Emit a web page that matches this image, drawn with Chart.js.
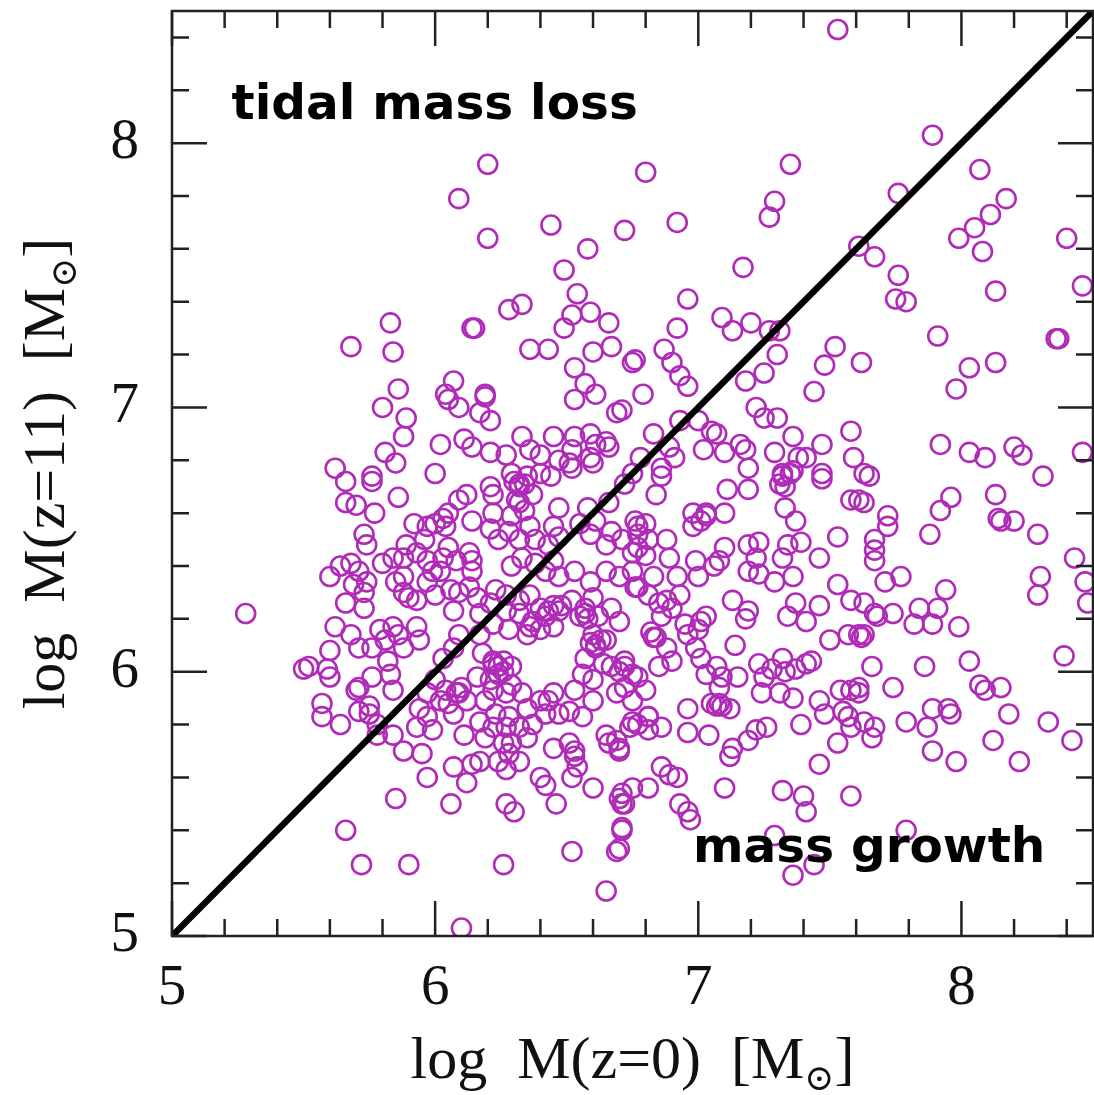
<!DOCTYPE html>
<html>
<head>
<meta charset="utf-8">
<script src="https://cdn.jsdelivr.net/npm/chart.js@4/dist/chart.umd.min.js"></script>
<style>
  html, body { margin: 0; padding: 0; background: #fff; }
  #massChart { display: block; }
</style>
</head>
<body>
<canvas id="massChart" width="1094" height="1095"></canvas>
<script>
// log M(z=0), log M(z=11) pairs, grouped by region
const upperLeftPts = [
  [6.20,7.92],[6.09,7.79],[6.20,7.64],[6.44,7.69],[6.72,7.67],[6.80,7.89],[6.58,7.60],[6.49,7.52],[6.54,7.43],[6.33,7.39],
  [6.28,7.37],[6.52,7.35],[6.59,7.36],[6.66,7.32],[6.49,7.30],[6.14,7.30],[6.15,7.30],[5.83,7.32],[5.68,7.23],[5.84,7.21],
  [6.36,7.22],[6.43,7.22],[6.60,7.21],[6.67,7.23],[6.75,7.17],[6.53,7.15],[6.57,7.09],[6.61,7.05],[6.53,7.03],[6.69,6.98],
  [6.79,7.05],[5.86,7.07],[5.80,7.00],[5.89,6.96],[5.88,6.89],[6.07,7.10],[6.04,7.05],[6.05,7.03],[6.09,7.00],[6.19,7.05],
  [6.19,7.04],[6.17,6.98],[6.21,6.95],[6.02,6.86],[6.11,6.88],[6.14,6.85],[6.21,6.83],[6.27,6.82],[6.33,6.89],[6.36,6.84],
  [6.40,6.82],[6.45,6.89],[6.53,6.89],[6.59,6.90],[6.61,6.86],[6.65,6.87],[6.47,6.80],[6.51,6.79],[6.59,6.81],[5.81,6.83],
  [5.85,6.79],[5.62,6.77],[6.00,6.75],[5.76,6.74],[6.29,6.75],[6.35,6.74]
];

const upperRightPts = [
  [7.53,8.43],[7.89,8.03],[7.35,7.92],[8.07,7.90],[7.76,7.81],[8.17,7.79],[7.29,7.78],[7.27,7.72],[8.11,7.73],[8.05,7.68],
  [7.99,7.64],[8.08,7.59],[6.92,7.70],[8.40,7.64],[7.61,7.61],[7.67,7.57],[7.76,7.50],[7.75,7.41],[7.79,7.40],[8.13,7.44],
  [8.46,7.46],[7.17,7.53],[6.96,7.41],[6.92,7.30],[7.09,7.34],[7.13,7.29],[7.20,7.32],[7.31,7.29],[7.27,7.29],[6.87,7.22],
  [6.90,7.17],[6.93,7.12],[6.96,7.08],[6.76,7.18],[6.71,6.99],[7.30,7.20],[7.25,7.13],[7.18,7.10],[7.91,7.27],[7.52,7.23],
  [7.48,7.16],[7.62,7.17],[7.44,7.06],[8.36,7.26],[8.37,7.26],[8.03,7.15],[8.13,7.17],[7.98,7.07],[7.22,7.00],[7.25,6.96],
  [7.30,6.96],[6.83,6.90],[6.93,6.95],[7.00,6.95],[7.07,6.90],[7.02,6.84],[7.10,6.83],[7.16,6.86],[7.18,6.84],[7.29,6.83],
  [7.36,6.89],[7.47,6.86],[7.58,6.91],[7.59,6.81],[7.38,6.81],[7.19,6.77],[7.92,6.86],[8.03,6.83],[8.09,6.81],[8.20,6.85],
  [8.23,6.82],[8.46,6.83],[8.31,6.74],[7.47,6.75],[7.32,6.75],[7.35,6.75],[7.63,6.75],[7.65,6.74],[6.78,6.81],[6.86,6.77],
  [6.89,6.85],[6.91,6.81],[6.75,6.75],[6.66,6.85],[6.52,6.84],[7.05,6.91],[7.41,6.81]
];

const lowerRightPts = [
  [7.32,6.74],[7.36,6.76],[7.31,6.71],[7.33,6.70],[7.47,6.73],[7.61,6.65],[7.63,6.64],[7.58,6.65],[6.84,6.67],[6.86,6.74],
  [7.11,6.69],[7.19,6.69],[6.98,6.60],[7.03,6.60],[6.98,6.55],[7.10,6.60],[7.33,6.62],[7.37,6.57],[7.72,6.59],[7.72,6.55],
  [7.96,6.66],[7.92,6.61],[7.88,6.52],[8.13,6.67],[8.14,6.58],[8.15,6.57],[8.20,6.57],[8.29,6.52],[8.43,6.43],[8.47,6.34],
  [8.48,6.26],[8.30,6.36],[8.29,6.29],[7.53,6.51],[7.67,6.50],[7.67,6.46],[7.67,6.42],[7.46,6.43],[7.39,6.49],[7.34,6.48],
  [7.32,6.43],[7.23,6.49],[7.19,6.48],[7.22,6.43],[7.19,6.38],[7.23,6.37],[7.29,6.34],[7.36,6.36],[7.10,6.47],[7.08,6.42],
  [7.06,6.40],[6.99,6.42],[7.00,6.36],[6.92,6.36],[6.88,6.50],[6.89,6.43],[6.83,6.36],[7.53,6.33],[7.58,6.27],[7.63,6.26],
  [7.71,6.34],[7.77,6.36],[7.94,6.31],[7.91,6.24],[7.84,6.24],[7.89,6.18],[7.82,6.18],[7.99,6.17],[7.74,6.22],[7.67,6.22],
  [7.13,6.27],[7.19,6.23],[7.18,6.20],[7.34,6.21],[7.41,6.19],[7.37,6.26],[7.46,6.25],[7.50,6.12],[7.57,6.14],[7.61,6.14],
  [7.63,6.14],[7.62,6.13],[6.95,6.18],[7.00,6.16],[7.01,6.19],[7.03,6.21],[6.96,6.14],[6.99,6.09],[7.01,6.05],[7.07,6.02],
  [7.09,5.98],[7.03,5.99],[6.88,6.27],[6.86,6.21],[6.83,6.13],[7.14,6.10],[7.23,6.03],[7.25,5.98],[7.24,5.92],[7.32,6.05],
  [7.33,6.00],[7.37,6.01],[7.41,6.03],[7.31,5.92],[7.36,5.90],[7.43,6.04],[7.15,5.98],[7.07,5.87],[7.09,5.87],[7.12,5.86],
  [7.04,5.76],[7.13,5.71],[7.12,5.68],[7.22,5.78],[7.26,5.79],[7.19,5.74],[6.96,5.86],[6.96,5.77],[6.86,5.79],[6.81,5.78],
  [6.77,5.80],[6.75,5.81],[6.70,5.71],[7.39,5.80],[7.46,5.89],[7.48,5.84],[7.54,5.93],[7.58,5.93],[7.61,5.92],[7.57,5.83],
  [7.63,5.81],[7.67,5.79],[7.66,5.75],[7.58,5.79],[7.53,5.73],[7.46,5.65],[7.74,5.94],[7.79,5.81],[7.86,6.02],[7.89,5.86],
  [7.95,5.86],[7.96,5.84],[7.87,5.79],[7.89,5.70],[7.98,5.66],[8.03,6.04],[8.07,5.95],[8.09,5.93],[8.15,5.94],[8.18,5.84],
  [8.12,5.74],[8.22,5.66],[8.33,5.81],[8.42,5.74],[8.39,6.06],[6.86,5.64],[6.89,5.61],[6.92,5.60],[6.81,5.56],[6.71,5.54],
  [6.72,5.50],[7.10,5.56],[7.32,5.55],[7.40,5.53],[7.41,5.47],[7.58,5.53],[6.93,5.50],[6.96,5.47],[6.97,5.44],[6.71,5.41],
  [6.70,5.33],[7.79,5.40],[7.29,5.38],[7.44,5.27],[7.36,5.23],[7.68,6.21],[7.66,6.02],[7.55,5.85],[7.08,5.94],[7.05,5.88],
  [6.85,6.26],[6.90,6.24],[6.88,6.09],[6.90,6.04],[6.85,6.02],[6.77,5.98],[6.80,5.93],[6.81,5.83],[6.81,6.29],[6.93,6.29],
  [6.76,6.57],[6.80,6.56],[6.77,6.52],[6.81,6.50],[6.77,6.47],[6.75,6.45],[6.80,6.44],[6.77,6.32]
];

const lowerLeftPts = [
  [5.66,6.72],[5.76,6.72],[5.86,6.66],[5.66,6.64],[5.70,6.63],[5.77,6.60],[6.09,6.65],[6.12,6.67],[6.21,6.70],[6.22,6.67],
  [6.14,6.57],[6.34,6.71],[6.40,6.75],[6.44,6.74],[6.32,6.64],[6.37,6.67],[6.22,6.60],[6.29,6.59],[6.34,6.61],[6.47,6.62],
  [6.52,6.77],[6.60,6.79],[6.58,6.62],[6.66,6.64],[6.72,6.71],[5.92,6.56],[5.97,6.55],[6.03,6.58],[6.04,6.55],[5.73,6.52],
  [5.74,6.48],[5.89,6.48],[5.96,6.50],[6.05,6.47],[6.13,6.45],[6.14,6.42],[6.14,6.38],[6.21,6.54],[6.24,6.50],[6.28,6.53],
  [6.32,6.50],[6.36,6.55],[6.38,6.50],[6.45,6.55],[6.47,6.51],[6.43,6.48],[6.55,6.56],[6.61,6.57],[6.67,6.53],[6.59,6.52],
  [6.65,6.48],[6.71,6.50],[6.77,6.55],[5.60,6.36],[5.64,6.40],[5.68,6.41],[5.71,6.38],[5.69,6.33],[5.74,6.34],[5.73,6.30],
  [5.80,6.41],[5.84,6.43],[5.88,6.43],[5.93,6.45],[5.97,6.42],[5.99,6.38],[5.88,6.36],[5.88,6.30],[5.93,6.27],[5.97,6.34],
  [5.66,6.26],[5.73,6.24],[5.62,6.17],[5.68,6.14],[5.71,6.09],[5.60,6.08],[5.52,6.02],[5.59,6.01],[5.60,5.98],[5.28,6.22],
  [5.79,6.16],[5.81,6.12],[5.86,6.14],[5.84,6.17],[5.76,6.09],[5.93,6.17],[5.94,6.12],[5.88,6.09],[5.82,6.04],[5.83,5.99],
  [5.76,5.98],[5.71,5.94],[5.70,5.93],[5.84,5.93],[5.57,5.88],[5.57,5.83],[5.64,5.80],[5.71,5.85],[5.75,5.87],[5.75,5.84],
  [5.78,5.80],[6.00,6.29],[6.06,6.31],[6.09,6.30],[6.13,6.32],[6.16,6.28],[6.07,6.23],[6.09,6.14],[6.07,6.09],[6.03,6.05],
  [6.17,6.22],[6.21,6.26],[6.22,6.18],[6.17,6.14],[6.29,6.40],[6.33,6.43],[6.38,6.41],[6.42,6.38],[6.45,6.42],[6.47,6.36],
  [6.53,6.38],[6.59,6.34],[6.65,6.38],[6.70,6.36],[6.75,6.38],[6.76,6.32],[6.23,6.31],[6.27,6.29],[6.32,6.27],[6.36,6.29],
  [6.40,6.24],[6.42,6.21],[6.37,6.19],[6.32,6.22],[6.27,6.23],[6.28,6.16],[6.35,6.14],[6.40,6.16],[6.45,6.17],[6.47,6.23],
  [6.52,6.27],[6.57,6.24],[6.60,6.28],[6.55,6.21],[6.62,6.21],[6.67,6.24],[6.70,6.19],[6.60,6.14],[6.65,6.12],[6.61,6.09],
  [6.57,6.05],[6.64,6.03],[6.56,5.99],[6.60,5.97],[6.67,6.02],[6.72,6.04],[6.75,5.99],[6.72,5.94],[6.69,5.92],[6.75,5.89],
  [6.18,6.07],[6.22,6.04],[6.26,6.04],[6.29,6.02],[6.24,5.99],[6.21,5.97],[6.16,5.98],[6.29,5.95],[6.33,5.92],[6.27,5.92],
  [6.22,5.93],[6.19,5.89],[6.00,5.97],[6.04,5.93],[6.09,5.92],[6.05,5.88],[6.12,5.89],[6.07,5.84],[6.02,5.89],[5.97,5.92],
  [5.94,5.86],[5.97,5.83],[5.99,5.78],[5.93,5.79],[5.84,5.76],[5.88,5.70],[5.95,5.69],[5.97,5.60],[5.85,5.52],[5.78,5.76],
  [6.11,5.76],[6.19,5.75],[6.22,5.79],[6.17,5.81],[6.23,5.84],[6.28,5.83],[6.27,5.79],[6.35,5.86],[6.40,5.89],[6.45,5.92],
  [6.51,5.85],[6.56,5.83],[6.47,5.84],[6.42,5.84],[6.32,5.79],[6.37,5.80],[6.35,5.75],[6.29,5.73],[6.45,5.71],[6.51,5.73],
  [6.53,5.70],[6.53,5.68],[6.54,5.64],[6.52,5.60],[6.26,5.73],[6.28,5.69],[6.24,5.66],[6.32,5.66],[6.27,5.63],[6.17,5.66],
  [6.14,5.65],[6.07,5.64],[6.12,5.58],[6.40,5.60],[6.42,5.57],[6.46,5.50],[6.27,5.50],[6.30,5.47],[6.06,5.50],[6.60,5.56],
  [6.70,5.52],[6.71,5.50],[6.71,5.40],[6.69,5.32],[6.52,5.32],[5.66,5.40],[5.72,5.27],[5.90,5.27],[6.26,5.27],[6.65,5.17],
  [6.10,5.03],[6.65,5.76],[6.69,5.74],[6.70,5.70],[6.66,5.73],[6.74,5.79],[6.75,5.56],[6.60,5.89],[6.53,5.93],[5.50,6.01],
  [6.00,6.56],[6.05,6.60],[6.32,6.70],[6.31,6.65],[6.03,6.43],[6.08,6.42],[5.85,6.34],[6.02,6.38],[5.90,6.28],[6.43,5.89],
  [6.81,5.83]
];

// overlapping circles in the saturated blobs of the core
const denseCorePts = [
  [6.24,6.02],[6.26,6.00],[6.22,6.03],[6.08,5.92],[6.10,5.94],[6.61,6.10],[6.63,6.12],[6.59,6.11],[6.72,6.02],[6.70,6.00],
  [6.84,6.13],[6.82,6.15],[7.08,5.88],[6.57,6.22],[6.58,6.20],[6.32,6.71],[6.30,6.72],[6.43,6.23],[6.45,6.25],[7.03,6.59],
  [7.01,6.57],[7.61,5.94],[7.28,6.01],[6.48,6.25],[6.36,6.17]
];

const axisMin = 5;
const axisMax = 8.5;
const majorTicks = [5, 6, 7, 8];
const minorStep = 0.2;
const identityLine = [{ x: 5, y: 5 }, { x: 8.5, y: 8.5 }];

const annotations = [
  { text: 'tidal mass loss', x: 5.226, y: 8.09 },
  { text: 'mass growth', x: 6.98, y: 5.28 }
];

const haloPoints = upperLeftPts.concat(upperRightPts, lowerRightPts, lowerLeftPts, denseCorePts)
  .map(p => ({ x: p[0], y: p[1] }));

const serif = '"Liberation Serif", "DejaVu Serif", serif';
const tickFont = '57px ' + serif;

// frame, inward ticks on all four sides, x tick labels
const frameTicks = {
  id: 'frameTicks',
  afterDatasetsDraw(chart) {
    const ctx = chart.ctx;
    const a = chart.chartArea;
    const xs = chart.scales.x, ys = chart.scales.y;
    ctx.save();
    ctx.strokeStyle = '#222';
    ctx.lineWidth = 2.5;
    ctx.strokeRect(a.left, a.top, a.right - a.left, a.bottom - a.top);
    for (let v = axisMin; v <= axisMax + 1e-6; v += minorStep) {
      const major = Math.abs(v - Math.round(v)) < 1e-6;
      const len = major ? 35 : 17;
      const px = xs.getPixelForValue(v);
      const py = ys.getPixelForValue(v);
      ctx.beginPath();
      ctx.moveTo(px, a.bottom); ctx.lineTo(px, a.bottom - len);
      ctx.moveTo(px, a.top); ctx.lineTo(px, a.top + len);
      ctx.moveTo(a.left, py); ctx.lineTo(a.left + len, py);
      ctx.moveTo(a.right, py); ctx.lineTo(a.right - len, py);
      ctx.stroke();
    }
    ctx.fillStyle = '#111';
    ctx.font = tickFont;
    ctx.textAlign = 'center';
    ctx.textBaseline = 'alphabetic';
    majorTicks.forEach(v => {
      ctx.fillText(String(v), xs.getPixelForValue(v), a.bottom + 68);
    });
    ctx.restore();
  }
};

function drawMassTitle(ctx, head, x, y, angle) {
  const big = '60px ' + serif;
  const small = '36px ' + serif;
  ctx.save();
  ctx.translate(x, y);
  ctx.rotate(angle);
  ctx.fillStyle = '#111';
  ctx.textBaseline = 'alphabetic';
  ctx.font = big;
  const wHead = ctx.measureText(head).width;
  const wClose = ctx.measureText(']').width;
  ctx.font = small;
  const wSun = ctx.measureText('\u2299').width;
  const total = wHead + wSun + wClose;
  let cx = -total / 2;
  ctx.font = big;
  ctx.fillText(head, cx, 18);
  cx += wHead;
  ctx.font = small;
  ctx.fillText('\u2299', cx, 30);
  cx += wSun;
  ctx.font = big;
  ctx.fillText(']', cx, 18);
  ctx.restore();
}

const textLayer = {
  id: 'textLayer',
  afterDraw(chart) {
    const ctx = chart.ctx;
    const a = chart.chartArea;
    const xs = chart.scales.x, ys = chart.scales.y;
    ctx.save();
    ctx.fillStyle = '#000';
    ctx.font = 'bold 48.5px "DejaVu Sans", sans-serif';
    ctx.textAlign = 'left';
    ctx.textBaseline = 'alphabetic';
    annotations.forEach(t => {
      ctx.fillText(t.text, xs.getPixelForValue(t.x), ys.getPixelForValue(t.y));
    });
    ctx.restore();
    drawMassTitle(ctx, 'log  M(z=0)  [M', (a.left + a.right) / 2, 1060, 0);
    drawMassTitle(ctx, 'log  M(z=11)  [M', 46, (a.top + a.bottom) / 2, -Math.PI / 2);
  }
};

new Chart(document.getElementById('massChart').getContext('2d'), {
  data: {
    datasets: [
      {
        type: 'line',
        data: identityLine,
        borderColor: '#000',
        borderWidth: 6.5,
        pointRadius: 0,
        order: 0
      },
      {
        type: 'scatter',
        data: haloPoints,
        pointStyle: 'circle',
        pointRadius: 9.5,
        borderWidth: 2.6,
        borderColor: '#b02cb8',
        backgroundColor: 'rgba(0,0,0,0)',
        order: 1
      }
    ]
  },
  options: {
    responsive: false,
    animation: false,
    devicePixelRatio: 1,
    layout: { autoPadding: false, padding: { top: 11, right: 1, left: 0, bottom: 0 } },
    plugins: {
      legend: { display: false },
      tooltip: { enabled: false }
    },
    scales: {
      x: {
        type: 'linear',
        min: axisMin,
        max: axisMax,
        afterBuildTicks: s => { s.ticks = majorTicks.map(v => ({ value: v })); },
        afterFit: s => { s.height = 159; },
        grid: { display: false, drawTicks: false },
        border: { display: false },
        ticks: { display: false }
      },
      y: {
        type: 'linear',
        min: axisMin,
        max: axisMax,
        afterBuildTicks: s => { s.ticks = majorTicks.map(v => ({ value: v })); },
        afterFit: s => { s.width = 172; s.paddingTop = 0; s.paddingBottom = 0; },
        grid: { display: false, drawTicks: false },
        border: { display: false },
        ticks: {
          autoSkip: false,
          padding: 33,
          color: '#111',
          font: { family: serif, size: 57 }
        }
      }
    }
  },
  plugins: [frameTicks, textLayer]
});
</script>
</body>
</html>
